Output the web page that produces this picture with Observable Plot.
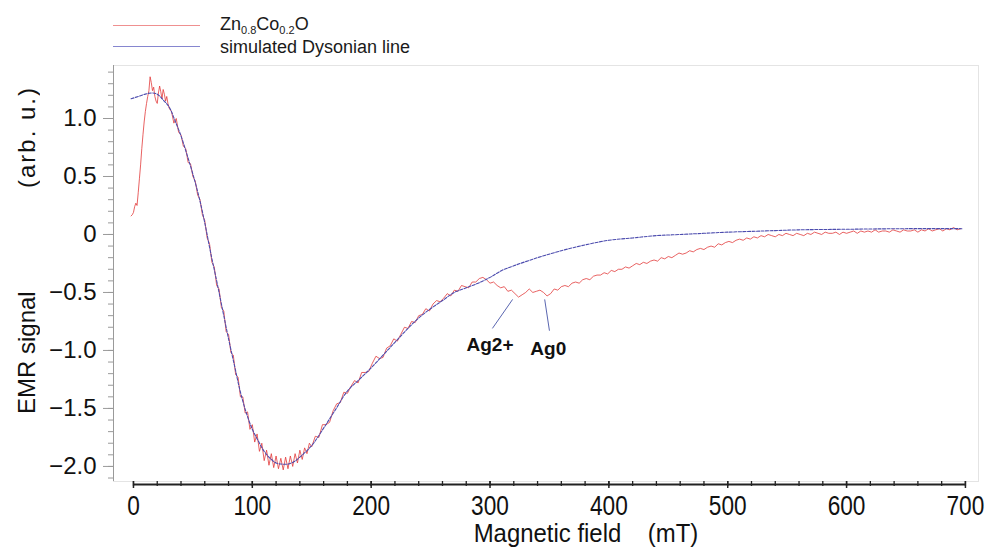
<!DOCTYPE html>
<html><head><meta charset="utf-8">
<script src="https://cdn.jsdelivr.net/npm/d3@7"></script>
<script src="https://cdn.jsdelivr.net/npm/@observablehq/plot@0.6"></script>
<style>
body{margin:0;background:#fff;}
#wrap{position:relative;width:985px;height:548px;font-family:"Liberation Sans",Arial,sans-serif;color:#111;overflow:hidden;}
#chart{position:absolute;left:0;top:0;}
.lg-line{position:absolute;left:113px;width:87px;height:1px;}
.lg-text{position:absolute;left:220px;font-size:18px;line-height:20px;color:#1a1a1a;white-space:nowrap;}
.lg-text sub{font-size:11px;vertical-align:-4px;line-height:0;}
#ylab{position:absolute;left:13px;top:86px;height:328px;width:28px;line-height:28px;writing-mode:vertical-rl;transform:rotate(180deg);display:flex;justify-content:space-between;font-size:24px;color:#111;white-space:nowrap;}
#ylab span.u{letter-spacing:2px;}
#xlab{position:absolute;left:586px;top:519px;transform:translateX(-50%) scaleX(0.92);font-size:26px;line-height:28px;white-space:pre;color:#111;}
</style></head><body>
<div id="wrap">
  <div id="chart"></div>
  <div class="lg-line" style="top:25px;background:#ef9090;"></div>
  <div class="lg-line" style="top:46px;background:#8686cf;"></div>
  <div class="lg-text" style="top:14px;">Zn<sub>0.8</sub>Co<sub>0.2</sub>O</div>
  <div class="lg-text" style="top:37px;">simulated Dysonian line</div>
  <div id="ylab"><span>EMR signal</span><span class="u">(arb. u.)</span></div>
  <div id="xlab">Magnetic field    (mT)</div>
</div>
<script>
// ---- measured spectrum (Zn0.8Co0.2O) ----
const redField = [-2,-1,0,1,2,3,4,5,6,7,8,9,10,11,12,13,14,15,16,17,18,19,20,21,22,23,24,25,26,27,28,29,
30,32,34,36,38,40,42,44,46,48,50,52,54,56,58,60,62,64,66,68,70,72,74,76,78,80,82,84,86,88,90,92,94,96,98,100,
102,104,106,108,110,112,114,116,118,120,122,124,126,128,130,132,134,136,138,140,142,144,146,148,150,
153,156,159,162,165,168,171,174,177,180,183,186,189,192,195,198,201,204,207,210,213,216,219,222,225,228,231,234,237,240,
243,246,249,252,255,258,261,264,267,270,273,276,279,282,285,288,291,294,
297,300,303,306,309,312,315,318,321,324,327,330,333,336,339,342,345,348,351,354,357,360,363,366,369,372,375,378,381,384,387,390,393,396,
399,402,405,408,411,414,417,420,423,426,429,432,435,438,441,444,447,450,453,456,459,462,465,468,471,474,477,480,483,486,489,492,495,498,
501,504,507,510,513,516,519,522,525,528,531,534,537,540,543,546,549,552,555,558,561,564,567,570,573,576,579,582,585,588,591,594,597,600,
603,606,609,612,615,618,621,624,627,630,633,636,639,642,645,648,651,654,657,660,663,666,669,672,675,678,681,684,687,690,693,696];
const redSignal = [
// -2 .. 29
0.16,0.17,0.19,0.24,0.27,0.25,0.36,0.48,0.60,0.74,0.86,0.97,1.06,1.13,1.19,1.24,1.36,1.31,1.24,1.27,1.19,1.15,1.13,1.22,1.28,1.23,1.17,1.25,1.21,1.15,1.19,1.13,
// 30 .. 100
1.09,1.06,0.96,1.00,0.88,0.86,0.76,0.74,0.62,0.61,0.50,0.46,0.34,0.30,0.17,0.12,-0.03,-0.08,-0.24,-0.28,-0.44,-0.47,-0.63,-0.66,-0.84,-0.86,-1.02,-1.04,-1.21,-1.23,-1.40,-1.40,-1.54,-1.53,-1.68,-1.64,
// 102 .. 150
-1.79,-1.72,-1.87,-1.80,-1.95,-1.86,-1.99,-1.89,-2.01,-1.91,-2.02,-1.93,-2.03,-1.92,-2.02,-1.91,-2.00,-1.89,-1.97,-1.86,-1.94,-1.84,-1.89,-1.80,-1.83,
// 153 .. 240
-1.74,-1.75,-1.64,-1.64,-1.62,-1.52,-1.46,-1.45,-1.36,-1.37,-1.31,-1.26,-1.28,-1.19,-1.19,-1.18,-1.11,-1.05,-1.07,-1.06,-0.98,-0.96,-0.90,-0.92,-0.86,-0.80,-0.81,-0.75,-0.76,-0.70,
// 243 .. 294
-0.69,-0.64,-0.66,-0.60,-0.57,-0.58,-0.55,-0.51,-0.53,-0.48,-0.49,-0.44,-0.45,-0.46,-0.41,-0.41,-0.38,-0.37,
// 297 .. 396
-0.39,-0.42,-0.41,-0.44,-0.46,-0.45,-0.49,-0.48,-0.51,-0.54,-0.52,-0.50,-0.47,-0.50,-0.49,-0.48,-0.50,-0.53,-0.51,-0.47,-0.48,-0.45,-0.44,-0.45,-0.42,-0.41,-0.42,-0.39,-0.38,-0.39,-0.36,-0.35,-0.35,-0.33,
// 399 .. 498
-0.34,-0.31,-0.32,-0.30,-0.30,-0.28,-0.29,-0.27,-0.25,-0.26,-0.24,-0.25,-0.23,-0.22,-0.23,-0.20,-0.21,-0.19,-0.20,-0.18,-0.16,-0.17,-0.16,-0.14,-0.15,-0.13,-0.12,-0.13,-0.11,-0.10,-0.11,-0.08,-0.09,-0.07,
// 501 .. 600
-0.06,-0.07,-0.05,-0.04,-0.05,-0.03,-0.04,-0.02,-0.03,-0.01,-0.02,0.00,-0.01,-0.02,0.00,-0.01,0.01,0.00,-0.01,0.01,0.00,-0.01,0.01,0.00,0.02,0.01,0.00,0.02,0.01,0.01,0.02,0.00,0.02,0.01,
// 603 .. 696
0.02,0.03,0.01,0.03,0.02,0.03,0.02,0.04,0.02,0.03,0.03,0.02,0.04,0.03,0.02,0.04,0.03,0.03,0.04,0.02,0.04,0.03,0.05,0.03,0.04,0.05,0.03,0.05,0.04,0.06,0.04,0.05];

// ---- simulated Dysonian line ----
const simField = [-2,4,10,15,20,25,30,35,40,45,50,55,60,65,70,75,80,85,90,95,100,105,110,115,120,125,130,135,140,150,160,170,180,190,200,210,220,230,240,250,260,270,280,290,300,310,320,340,360,380,400,420,440,460,480,500,530,560,600,650,697];
const simSignal = [1.17,1.19,1.21,1.22,1.21,1.16,1.10,0.98,0.85,0.69,0.52,0.33,0.10,-0.16,-0.40,-0.65,-0.90,-1.13,-1.36,-1.54,-1.68,-1.78,-1.87,-1.93,-1.97,-1.98,-1.98,-1.96,-1.92,-1.82,-1.67,-1.51,-1.35,-1.25,-1.15,-1.04,-0.93,-0.82,-0.72,-0.64,-0.57,-0.50,-0.46,-0.42,-0.37,-0.31,-0.27,-0.20,-0.14,-0.09,-0.05,-0.03,-0.01,0.00,0.01,0.02,0.03,0.04,0.045,0.05,0.05];

// ---- annotations ----
const annotLabels = ["Ag2+", "Ag0"];
const annotTextField = [300, 349];
const annotTextSignal = [-0.95, -0.99];
const annotTailField = [302, 350];
const annotTailSignal = [-0.81, -0.83];
const annotTipField = [319, 346];
const annotTipSignal = [-0.56, -0.56];

// ---- axes ----
const xTicks = [0,100,200,300,400,500,600,700];
const xMinorTicks = [0,20,40,60,80,100,120,140,160,180,200,220,240,260,280,300,320,340,360,380,400,420,440,460,480,500,520,540,560,580,600,620,640,660,680,700];
const yTicks = [-2,-1.5,-1,-0.5,0,0.5,1];
const yTickLabels = ["\u22122.0","\u22121.5","\u22121.0","\u22120.5","0","0.5","1.0"];
const yMinorTicks = [-2.1,-2.0,-1.9,-1.8,-1.7,-1.6,-1.5,-1.4,-1.3,-1.2,-1.1,-1.0,-0.9,-0.8,-0.7,-0.6,-0.5,-0.4,-0.3,-0.2,-0.1,0,0.1,0.2,0.3,0.4,0.5,0.6,0.7,0.8,0.9,1.0,1.1,1.2,1.3,1.4];
const xDomain = [-16.8, 711];
const yDomain = [-2.13, 1.457];

const n = Math.min(redField.length, redSignal.length);
const red = redField.slice(0, n).map((f, i) => ({field: f, signal: redSignal[i]}));
const sim = simField.map((f, i) => ({field: f, signal: simSignal[i]}));
const annots = annotLabels.map((t, i) => ({
  label: t, tx: annotTextField[i], ty: annotTextSignal[i],
  x1: annotTailField[i], y1: annotTailSignal[i], x2: annotTipField[i], y2: annotTipSignal[i]
}));

const chart = Plot.plot({
  width: 985,
  height: 548,
  marginLeft: 113,
  marginRight: 7,
  marginTop: 65,
  marginBottom: 67,
  style: {fontFamily: '"Liberation Sans",Arial,sans-serif', fontSize: "24px", color: "#111", background: "transparent", overflow: "visible"},
  x: {domain: xDomain},
  y: {domain: yDomain},
  marks: [
    Plot.frame({stroke: "#e4e4e4"}),
    Plot.ruleX([xDomain[0]], {y1: yDomain[0], y2: yDomain[1], stroke: "#9a9a9a"}),
    Plot.axisY(yMinorTicks, {tickSize: 5, stroke: "#9a9a9a", fill: "none"}),
    Plot.axisY(yTicks, {tickSize: 10, tickPadding: 7, stroke: "#9a9a9a", fill: "#111",
      tickFormat: d => yTickLabels[yTicks.indexOf(d)], label: null}),
    Plot.ruleY([yDomain[0]], {x1: xTicks[0], x2: xTicks[xTicks.length - 1], dy: 3, stroke: "#222", strokeWidth: 1.8}),
    Plot.axisX(xMinorTicks, {tickSize: 5, stroke: "#222", strokeWidth: 1.3, fill: "none"}),
    Plot.axisX(xTicks, {tickSize: 7, tickPadding: 7, stroke: "#222", strokeWidth: 1.5, fill: "#111",
      fontSize: 27, label: null}),
    Plot.line(red, {x: "field", y: "signal", stroke: "#e23a3a", strokeWidth: 0.8}),
    Plot.line(sim, {x: "field", y: "signal", stroke: "#4c4cae", strokeWidth: 1.1, strokeDasharray: "3 1.5", curve: "catmull-rom"}),
    Plot.link(annots, {x1: "x1", y1: "y1", x2: "x2", y2: "y2", stroke: "#5a66b0", strokeWidth: 1}),
    Plot.text(annots, {x: "tx", y: "ty", text: "label", fontSize: 19, fontWeight: "bold", fill: "#111"})
  ]
});
// condense the x tick labels horizontally (the reference uses a narrow face)
d3.select(chart).selectAll('g[aria-label="x-axis tick label"] text').each(function () {
  const t = this.getAttribute("transform") || "";
  this.setAttribute("transform", `${t} scale(0.84,1)`);
});
document.getElementById("chart").appendChild(chart);
</script>
</body></html>
